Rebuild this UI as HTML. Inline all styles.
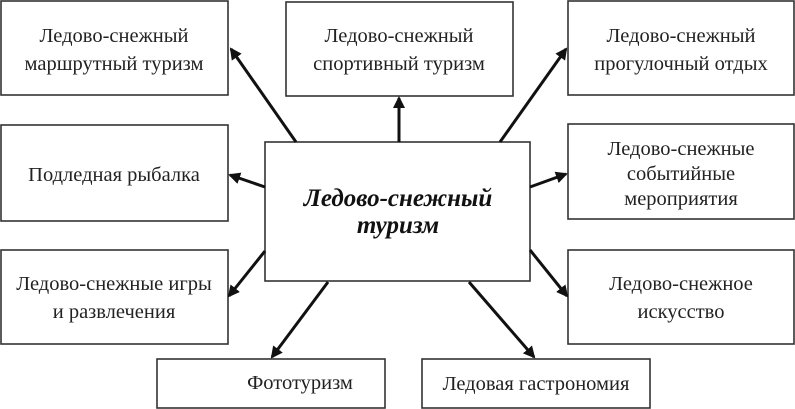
<!DOCTYPE html>
<html><head><meta charset="utf-8"><style>
html,body{margin:0;padding:0;background:#fff;}
svg{display:block;}
text{font-family:"Liberation Serif",serif;font-size:20.5px;fill:#222;text-anchor:middle;}
.c{font-weight:bold;font-style:italic;font-size:25px;fill:#111;}
rect{fill:#fff;stroke:#333;stroke-width:1.6;}
line{stroke:#111;stroke-width:3;}
</style></head><body>
<svg width="795" height="409" viewBox="0 0 795 409">
<defs><marker id="a" markerWidth="12" markerHeight="12" refX="10" refY="6" orient="auto" markerUnits="userSpaceOnUse"><path d="M0,0 L12,6 L0,12 z" fill="#111"/></marker></defs>
<rect x="1" y="1" width="227" height="94"/>
<text x="114" y="42">Ледово-снежный</text><text x="114" y="70">маршрутный туризм</text>
<rect x="286" y="2" width="227" height="94"/>
<text x="399" y="42">Ледово-снежный</text><text x="399" y="70">спортивный туризм</text>
<rect x="568" y="1" width="226" height="94"/>
<text x="681" y="42">Ледово-снежный</text><text x="681" y="70">прогулочный отдых</text>
<rect x="1" y="125" width="227" height="96"/>
<text x="114" y="181">Подледная рыбалка</text>
<rect x="568" y="124" width="226" height="95"/>
<text x="681" y="155">Ледово-снежные</text><text x="681" y="180">событийные</text><text x="681" y="205">мероприятия</text>
<rect x="1" y="250" width="227" height="94"/>
<text x="114" y="290">Ледово-снежные игры</text><text x="114" y="318">и развлечения</text>
<rect x="568" y="250" width="226" height="94"/>
<text x="681" y="290">Ледово-снежное</text><text x="681" y="318">искусство</text>
<rect x="157" y="359" width="228" height="49"/>
<text x="300" y="389">Фототуризм</text>
<rect x="422" y="359" width="228" height="49"/>
<text x="536" y="390">Ледовая гастрономия</text>
<rect x="265" y="142" width="265" height="139"/>
<text class="c" x="398" y="206">Ледово-снежный</text><text class="c" x="398" y="233">туризм</text>
<line x1="296" y1="142" x2="231" y2="49" marker-end="url(#a)"/>
<line x1="399" y1="142" x2="399" y2="98" marker-end="url(#a)"/>
<line x1="500" y1="142" x2="566" y2="49" marker-end="url(#a)"/>
<line x1="265" y1="187" x2="230" y2="175" marker-end="url(#a)"/>
<line x1="530" y1="187" x2="566" y2="174" marker-end="url(#a)"/>
<line x1="265" y1="251" x2="229" y2="296" marker-end="url(#a)"/>
<line x1="530" y1="250" x2="567" y2="296" marker-end="url(#a)"/>
<line x1="328" y1="282" x2="272" y2="357" marker-end="url(#a)"/>
<line x1="469" y1="282" x2="534" y2="357" marker-end="url(#a)"/>
</svg>
</body></html>
